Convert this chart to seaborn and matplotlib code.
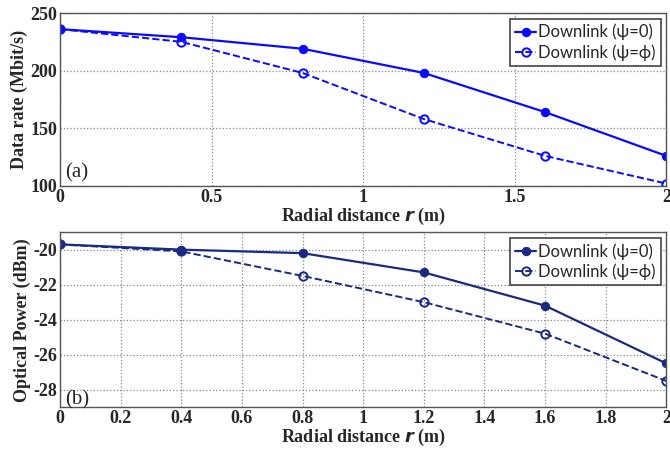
import numpy as np
import pandas as pd
import matplotlib
matplotlib.use("Agg")
import matplotlib.pyplot as plt
import seaborn as sns

# Radial distance samples (m)
radius = [0.0, 0.4, 0.8, 1.2, 1.6, 2.0]

# Data rate (Mbit/s)
rate_psi0 = [236, 229, 219, 198, 164, 126]
rate_psiphi = [236, 225, 198, 158, 126, 102]

# Optical power (dBm)
power_psi0 = [-19.7, -20.0, -20.2, -21.3, -23.2, -26.5]
power_psiphi = [-19.7, -20.1, -21.5, -23.0, -24.8, -27.5]

labels = ["Downlink (\u03c8=0)", "Downlink (\u03c8=\u03d5)"]

sns.set_theme(style="white")
plt.rcParams["font.family"] = ["DejaVu Serif"]
plt.rcParams["axes.unicode_minus"] = False

fig = plt.figure(figsize=(6.7, 4.49), dpi=100)
ax1 = fig.add_axes([0.0896, 0.586, 0.905, 0.385])
ax2 = fig.add_axes([0.0896, 0.093, 0.905, 0.390])

serif = ["Liberation Serif", "DejaVu Serif"]
sans = ["Lato", "DejaVu Sans"]


def draw(ax, y0, y1, color):
    df = pd.DataFrame({
        "r": radius * 2,
        "v": list(y0) + list(y1),
        "s": [labels[0]] * len(radius) + [labels[1]] * len(radius),
    })
    sns.lineplot(data=df[df.s == labels[0]], x="r", y="v", ax=ax, color=color,
                 lw=1.6, marker="o", markersize=6, markerfacecolor=color,
                 markeredgecolor=color, label=labels[0], legend=False)
    sns.lineplot(data=df[df.s == labels[1]], x="r", y="v", ax=ax, color=color,
                 lw=1.4, linestyle="--", marker="o", markersize=6,
                 markerfacecolor="none", markeredgecolor=color,
                 markeredgewidth=1.4, label=labels[1], legend=False)
    ax.grid(True, color="#888888", linestyle=":", linewidth=0.9)
    for sp in ax.spines.values():
        sp.set_color("#555555")
        sp.set_linewidth(1.0)
    ax.tick_params(axis="y", labelsize=13, pad=2, length=0)
    ax.tick_params(axis="x", labelsize=13, pad=2, length=0)
    leg = ax.legend(loc="upper right", prop={"family": sans, "size": 12},
                    handlelength=1.3, handletextpad=0.1, borderpad=0.3,
                    labelspacing=0.25, fancybox=False, framealpha=1,
                    edgecolor="#444444", borderaxespad=0.35)
    leg.get_frame().set_linewidth(1.2)


def style_ticks(ax):
    for t in ax.get_xticklabels() + ax.get_yticklabels():
        t.set_fontweight("bold")
        t.set_family(serif)
        t.set_fontsize(13)


c1 = "#0a0aff"
c2 = "#1a2a80"
label_kw = dict(fontsize=13, fontweight="bold", family=serif)

draw(ax1, rate_psi0, rate_psiphi, c1)
ax1.set_xlim(0, 2)
ax1.set_ylim(100, 250)
ax1.set_xticks([0, 0.5, 1, 1.5, 2])
ax1.set_xticklabels(["0", "0.5", "1", "1.5", "2"])
ax1.set_yticks([100, 150, 200, 250])
style_ticks(ax1)
ax1.set_xlabel("Radial distance $\\boldsymbol{r}$ (m)", labelpad=0, **label_kw)
ax1.set_ylabel("Data rate (Mbit/s)", labelpad=2, **label_kw)
ax1.text(0.008, 0.02, "(a)", transform=ax1.transAxes, fontsize=15,
         family=serif, va="bottom", ha="left")

draw(ax2, power_psi0, power_psiphi, c2)
ax2.set_xlim(0, 2)
ax2.set_ylim(-29, -19)
ax2.set_xticks(np.round(np.arange(0, 2.01, 0.2), 1))
ax2.set_xticklabels(["0", "0.2", "0.4", "0.6", "0.8", "1", "1.2", "1.4",
                     "1.6", "1.8", "2"])
ax2.set_yticks([-28, -26, -24, -22, -20])
style_ticks(ax2)
ax2.set_xlabel("Radial distance $\\boldsymbol{r}$ (m)", labelpad=0, **label_kw)
ax2.set_ylabel("Optical Power (dBm)", labelpad=2, **label_kw)
ax2.text(0.008, -0.01, "(b)", transform=ax2.transAxes, fontsize=15,
         family=serif, va="bottom", ha="left")

fig.savefig("out.png", dpi=100)
